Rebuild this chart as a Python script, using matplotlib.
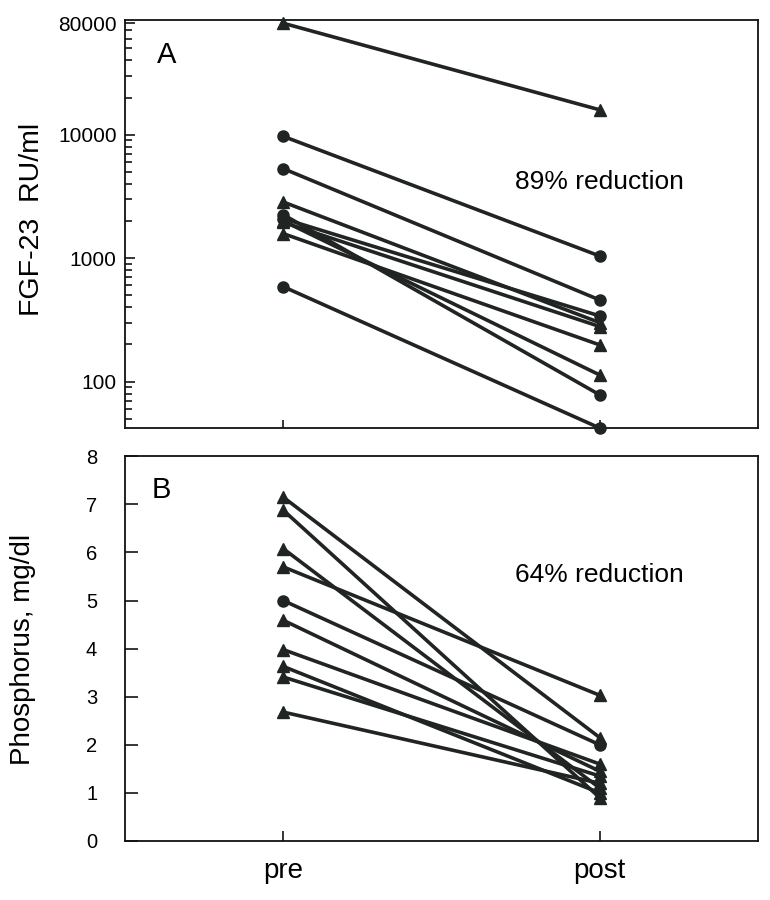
import matplotlib
matplotlib.use("Agg")
from matplotlib import pyplot as plt
from matplotlib.ticker import LogLocator, NullFormatter

plt.rcParams['font.family'] = ['Liberation Sans', 'DejaVu Sans']

# 数据：FGF-23 (RU/ml)，治疗前后
fgf_pre = [80000, 9700, 5310, 2850, 2250, 2090, 1950, 2000, 1580, 587]
fgf_post = [15900, 1040, 458, 300, 78, 340, 279, 113, 198, 42]
fgf_marker = ['^', 'o', 'o', '^', 'o', 'o', '^', '^', '^', 'o']

# 数据：血磷 (mg/dl)
phos_pre = [7.15, 6.88, 6.08, 5.70, 5.0, 4.59, 3.98, 3.63, 3.41, 2.68]
phos_post = [2.15, 0.9, 1.1, 3.03, 2.0, 1.45, 1.6, 1.0, 1.35, 1.2]
phos_marker = ['^', '^', '^', '^', 'o', '^', '^', '^', '^', '^']

x_labels = ['pre', 'post']
x_pos = [0, 1]

col = '#202423'
lw = 2.6

fig = plt.figure(figsize=(7.7, 9), dpi=100)
axA = fig.add_axes([0.1623, 0.5244, 0.8221, 0.4534])
axB = fig.add_axes([0.1623, 0.0656, 0.8221, 0.4274])

# A
for a, b, m in zip(fgf_pre, fgf_post, fgf_marker):
    axA.plot(x_pos, [a, b], color=col, lw=lw, marker=m,
             ms=8.5 if m == '^' else 8, mfc=col, mec=col, clip_on=False, zorder=3)
axA.set_yscale('log')
axA.set_ylim(42, 85000)
axA.set_xlim(-0.5, 1.5)
axA.set_yticks([100, 1000, 10000, 80000])
axA.set_yticklabels(['100', '1000', '10000', '80000'])
axA.yaxis.set_minor_locator(LogLocator(base=10, subs=range(2, 10)))
axA.yaxis.set_minor_formatter(NullFormatter())
axA.tick_params(axis='y', which='major', direction='in', length=7, width=1.1,
                labelsize=15, pad=6, right=False)
axA.tick_params(axis='y', which='minor', direction='in', length=5, width=1.1, right=False)
axA.set_xticks(x_pos)
axA.tick_params(axis='x', direction='in', length=6, width=1.1, labelbottom=False, top=False)
axA.text(0.066, 0.914, 'A', transform=axA.transAxes, fontsize=21, ha='center', va='center')
axA.text(1.0, 4110, '89% reduction', fontsize=19, ha='center', va='center')
axA.text(-0.147, 0.512, 'FGF-23  RU/ml', transform=axA.transAxes, rotation=90,
         fontsize=20.5, ha='center', va='center')

# B
for a, b, m in zip(phos_pre, phos_post, phos_marker):
    axB.plot(x_pos, [a, b], color=col, lw=lw, marker=m,
             ms=8.5 if m == '^' else 8, mfc=col, mec=col, clip_on=False, zorder=3)
axB.set_ylim(0, 8)
axB.set_xlim(-0.5, 1.5)
axB.set_yticks(range(0, 9))
axB.tick_params(axis='y', direction='in', length=9, width=1.1, labelsize=14.5, pad=20, right=False)
axB.set_xticks(x_pos)
axB.set_xticklabels(x_labels)
axB.tick_params(axis='x', direction='in', length=7, width=1.1, labelsize=20, pad=12, top=False)
axB.text(0.058, 0.912, 'B', transform=axB.transAxes, fontsize=21, ha='center', va='center')
axB.text(1.0, 5.53, '64% reduction', fontsize=19, ha='center', va='center')
axB.text(-0.161, 0.499, 'Phosphorus, mg/dl', transform=axB.transAxes, rotation=90,
         fontsize=20, ha='center', va='center')

for ax in (axA, axB):
    for s in ax.spines.values():
        s.set_linewidth(1.3)
        s.set_color('#111111')

plt.savefig('out.png', dpi=100)
